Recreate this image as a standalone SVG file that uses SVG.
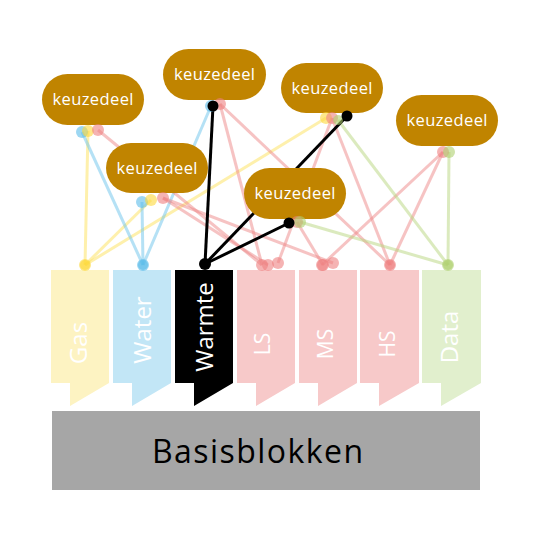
<svg xmlns="http://www.w3.org/2000/svg" width="540" height="540" viewBox="0 0 540 540">
<style>
.col text{font-family:"Open Sans","Liberation Sans",sans-serif;fill:#fff;text-anchor:middle}
.node rect{fill:#c08400}
.node text{font-family:"Open Sans","Liberation Sans",sans-serif;font-size:16.5px;fill:#fff;text-anchor:middle}
.c line{stroke-width:3;stroke-opacity:.5;fill:none}
.c .ye{stroke:#fde25a}
.c .bl{stroke:#6cc4ec}
.c .pk{stroke:#ee8888}
.c .gr{stroke:#b7d67e}
.c .bk{stroke:#000;stroke-opacity:1}
.d circle{fill-opacity:.6}
.d .ye{fill:#fdd93a}
.d .bl{fill:#5bbde9}
.d .pk{fill:#ee8080}
.d .gr{fill:#afd070}
.d .bk{fill:#000;fill-opacity:1}
</style>

<g id="col-gas" class="col"><polygon points="51,270 109,270 109,383 70,406 70,383 51,383" fill="#fdf3c2"/><text x="87" y="343" font-size="24" transform="rotate(-90 87 343)">Gas</text></g>
<g id="col-water" class="col"><polygon points="113,270 171,270 171,383 132,406 132,383 113,383" fill="#c2e6f6"/><text x="151" y="330" font-size="24" transform="rotate(-90 151 330)">Water</text></g>
<g id="col-warmte" class="col"><polygon points="175,270 233,270 233,383 194,406 194,383 175,383" fill="#000"/><text x="213" y="327" font-size="24" transform="rotate(-90 213 327)">Warmte</text></g>
<g id="col-ls" class="col"><polygon points="237,270 295,270 295,383 256,406 256,383 237,383" fill="#f7c9c9"/><text x="270" y="344" font-size="21" transform="rotate(-90 270 344)">LS</text></g>
<g id="col-ms" class="col"><polygon points="299,270 357,270 357,383 318,406 318,383 299,383" fill="#f7c9c9"/><text x="333" y="344" font-size="21" transform="rotate(-90 333 344)">MS</text></g>
<g id="col-hs" class="col"><polygon points="360,270 419,270 419,383 379,406 379,383 360,383" fill="#f7c9c9"/><text x="395" y="344" font-size="21" transform="rotate(-90 395 344)">HS</text></g>
<g id="col-data" class="col"><polygon points="422,270 481,270 481,383 441,406 441,383 422,383" fill="#e1efcd"/><text x="458" y="337" font-size="24" transform="rotate(-90 458 337)">Data</text></g>

<g id="basisblokken"><rect x="52" y="411" width="428" height="79" fill="#a6a6a6"/><text x="257.5" y="463" font-family="'Open Sans','Liberation Sans',sans-serif" font-size="32" text-anchor="middle" textLength="211" fill="#000">Basisblokken</text></g>

<g id="connectors" class="c">
<line class="ye" x1="88" y1="131" x2="85" y2="265"/>
<line class="ye" x1="151" y1="200" x2="85" y2="265"/>
<line class="ye" x1="326" y1="118" x2="85" y2="265"/>
<line class="bl" x1="82" y1="132" x2="143" y2="265"/>
<line class="bl" x1="142" y1="202" x2="143" y2="265"/>
<line class="bl" x1="211" y1="106" x2="143" y2="265"/>
<line class="pk" x1="98" y1="130" x2="262" y2="265"/>
<line class="pk" x1="163" y1="198" x2="268" y2="265"/>
<line class="pk" x1="163" y1="198" x2="333" y2="263"/>
<line class="pk" x1="220" y1="104" x2="262" y2="265"/>
<line class="pk" x1="220" y1="104" x2="390" y2="265"/>
<line class="pk" x1="332" y1="118" x2="278" y2="263"/>
<line class="pk" x1="332" y1="118" x2="390" y2="265"/>
<line class="pk" x1="443" y1="152" x2="322" y2="265"/>
<line class="pk" x1="443" y1="152" x2="390" y2="265"/>
<line class="pk" x1="297" y1="222" x2="323" y2="265"/>
<line class="gr" x1="338" y1="120" x2="448" y2="265"/>
<line class="gr" x1="449" y1="152" x2="448" y2="265"/>
<line class="gr" x1="300" y1="222" x2="448" y2="265"/>
<line class="bk" x1="213" y1="106" x2="205" y2="264"/>
<line class="bk" x1="347" y1="116" x2="205" y2="264"/>
<line class="bk" x1="289" y1="223" x2="205" y2="264"/>
</g>

<g id="node-a" class="node"><rect x="42" y="74" width="102" height="51" rx="25.5"/><text x="93" y="105" textLength="81">keuzedeel</text></g>
<g id="node-b" class="node"><rect x="163" y="49" width="103" height="51" rx="25.5"/><text x="214.5" y="80" textLength="81">keuzedeel</text></g>
<g id="node-c" class="node"><rect x="106" y="143" width="102" height="50" rx="25"/><text x="157" y="173.5" textLength="81">keuzedeel</text></g>
<g id="node-d" class="node"><rect x="281" y="63" width="102" height="50" rx="25"/><text x="332" y="93.5" textLength="81">keuzedeel</text></g>
<g id="node-e" class="node"><rect x="396" y="95" width="102" height="51" rx="25.5"/><text x="447" y="126" textLength="81">keuzedeel</text></g>
<g id="node-f" class="node"><rect x="244" y="168" width="102" height="51" rx="25.5"/><text x="295" y="199" textLength="81">keuzedeel</text></g>

<g id="connector-ends" class="d">
<circle class="bl" cx="82" cy="132" r="6"/>
<circle class="ye" cx="88" cy="131" r="6"/>
<circle class="pk" cx="98" cy="130" r="6"/>
<circle class="bl" cx="142" cy="202" r="6"/>
<circle class="ye" cx="151" cy="200" r="6"/>
<circle class="pk" cx="163" cy="198" r="6"/>
<circle class="bl" cx="211" cy="106" r="6"/>
<circle class="pk" cx="220" cy="104" r="6"/>
<circle class="bk" cx="213" cy="106" r="5.5"/>
<circle class="ye" cx="326" cy="118" r="6"/>
<circle class="pk" cx="332" cy="118" r="6"/>
<circle class="gr" cx="338" cy="120" r="5"/>
<circle class="bk" cx="347" cy="116" r="5.5"/>
<circle class="pk" cx="443" cy="152" r="6"/>
<circle class="gr" cx="449" cy="152" r="6"/>
<circle class="pk" cx="297" cy="222" r="6"/>
<circle class="gr" cx="300" cy="222" r="6"/>
<circle class="bk" cx="289" cy="223" r="5.5"/>
<circle class="ye" cx="85" cy="265" r="6"/>
<circle class="ye" cx="85" cy="265" r="5"/>
<circle class="bl" cx="143" cy="265" r="6"/>
<circle class="bl" cx="143" cy="265" r="5"/>
<circle class="bk" cx="205" cy="264" r="6"/>
<circle class="pk" cx="262" cy="265" r="6"/>
<circle class="pk" cx="268" cy="265" r="6"/>
<circle class="pk" cx="278" cy="263" r="6"/>
<circle class="pk" cx="322" cy="265" r="6"/>
<circle class="pk" cx="323" cy="265" r="6"/>
<circle class="pk" cx="333" cy="263" r="6"/>
<circle class="pk" cx="390" cy="265" r="6"/>
<circle class="pk" cx="390" cy="265" r="5"/>
<circle class="gr" cx="448" cy="265" r="6"/>
<circle class="gr" cx="448" cy="265" r="5"/>
</g>
</svg>
